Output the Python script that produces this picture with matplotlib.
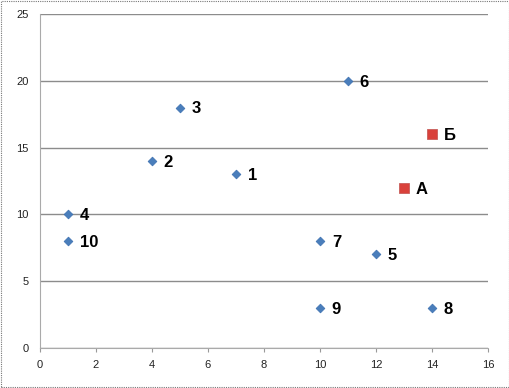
import matplotlib.pyplot as plt

# points from the picture
names = ['1', '2', '3', '4', '5', '6', '7', '8', '9', '10']
xs = [7, 4, 5, 1, 12, 11, 10, 14, 10, 1]
ys = [13, 14, 18, 10, 7, 20, 8, 3, 3, 8]

special_names = ['А', 'Б']
special_x = [13, 14]
special_y = [12, 16]

x_ticks = [0, 2, 4, 6, 8, 10, 12, 14, 16]
y_ticks = [0, 5, 10, 15, 20, 25]

plt.rcParams['font.family'] = ['Liberation Sans', 'DejaVu Sans']

fig = plt.figure(figsize=(5.1, 3.88), dpi=100)
ax = fig.add_axes([40 / 510, 40 / 388, 448 / 510, 334 / 388])

ax.scatter(xs, ys, marker='D', s=20, color='#4a7ebb', edgecolors='#3b6fb0',
           linewidths=0.5, zorder=3)
ax.scatter(special_x, special_y, marker='s', s=42, color='#d9413b',
           edgecolors='#c0504d', linewidths=0.5, zorder=3)

for n, x, y in zip(names + special_names, xs + special_x, ys + special_y):
    ax.annotate(n, (x, y), xytext=(8.5, -1), textcoords='offset points',
                ha='left', va='center', fontsize=12, fontweight='bold')

ax.set_xlim(0, 16)
ax.set_ylim(0, 25)
ax.set_xticks(x_ticks)
ax.set_yticks(y_ticks)
ax.tick_params(labelsize=8, colors='#222222', length=3, color='#999999')
ax.tick_params(axis='y', length=0, pad=8)
ax.tick_params(axis='x', pad=6)

ax.yaxis.grid(True, color='#8c8c8c', linewidth=1)
ax.set_axisbelow(True)
for side in ['top', 'right']:
    ax.spines[side].set_visible(False)
for side in ['left', 'bottom']:
    ax.spines[side].set_color('#aaaaaa')
    ax.spines[side].set_linestyle((0, (1, 1)))
    ax.spines[side].set_linewidth(0.8)

# dotted frame round the whole picture
fig.patches.append(plt.Rectangle((0.002, 0.002), 0.996, 0.996, transform=fig.transFigure,
                                 fill=False, edgecolor='#777777', linewidth=0.8,
                                 linestyle=(0, (1, 1))))

fig.savefig('out.png', dpi=100)
